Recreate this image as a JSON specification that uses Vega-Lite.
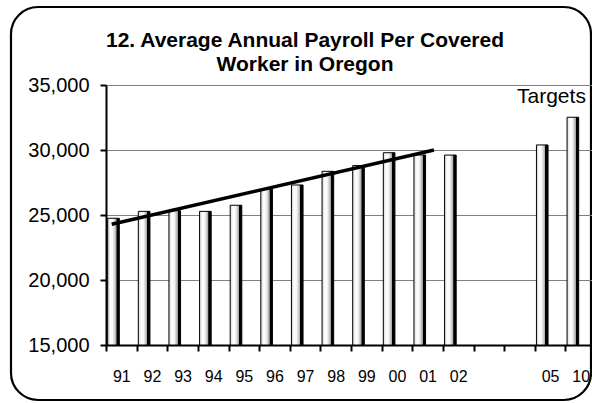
{
  "$schema": "https://vega.github.io/schema/vega-lite/v6.json",
  "width": 580,
  "height": 393,
  "autosize": {"type": "none"},
  "padding": {"left": 11, "top": 7, "right": 1, "bottom": 3},
  "background": "white",
  "config": {
    "font": "Liberation Sans",
    "view": {"stroke": "black", "strokeWidth": 2.2, "cornerRadius": 27, "fill": "white"}
  },
  "title": {
    "text": ["12. Average Annual Payroll Per Covered", "Worker in Oregon"],
    "fontSize": 21,
    "fontWeight": "bold",
    "color": "black",
    "anchor": "middle",
    "frame": "group",
    "lineHeight": 24,
    "offset": -68,
    "dx": 4
  },
  "layer": [
    {
      "data": {
        "values": [
          {"year": "91", "series": "Payroll", "payroll": 24750},
          {"year": "92", "series": "Payroll", "payroll": 25280},
          {"year": "93", "series": "Payroll", "payroll": 25330},
          {"year": "94", "series": "Payroll", "payroll": 25280},
          {"year": "95", "series": "Payroll", "payroll": 25750},
          {"year": "96", "series": "Payroll", "payroll": 26980},
          {"year": "97", "series": "Payroll", "payroll": 27310},
          {"year": "98", "series": "Payroll", "payroll": 28360},
          {"year": "99", "series": "Payroll", "payroll": 28800},
          {"year": "00", "series": "Payroll", "payroll": 29790},
          {"year": "01", "series": "Payroll", "payroll": 29620},
          {"year": "02", "series": "Payroll", "payroll": 29610},
          {"year": "05", "series": "Payroll", "payroll": 30390},
          {"year": "10", "series": "Payroll", "payroll": 32520}
        ]
      },
      "mark": {
        "type": "bar",
        "color": {
          "gradient": "linear",
          "x1": 0, "x2": 1, "y1": 0, "y2": 0,
          "stops": [
            {"offset": 0, "color": "#d4d4d4"},
            {"offset": 0.25, "color": "#ffffff"},
            {"offset": 0.45, "color": "#f6f6f6"},
            {"offset": 0.62, "color": "#cccccc"},
            {"offset": 0.74, "color": "#a0a0a0"},
            {"offset": 0.78, "color": "#000000"},
            {"offset": 1, "color": "#000000"}
          ]
        },
        "stroke": "black",
        "strokeWidth": 1
      },
      "encoding": {
        "x": {
          "field": "year",
          "type": "ordinal",
          "sort": null,
          "scale": {
            "domain": ["91", "92", "93", "94", "95", "96", "97", "98", "99", "00", "01", "02", "03", "04", "05", "10"],
            "range": [95, 585],
            "paddingInner": 0,
            "paddingOuter": 0
          },
          "axis": {
            "title": null,
            "offset": -55,
            "labelAngle": 0,
            "labelFontSize": 16,
            "labelColor": "black",
            "labelPadding": 17,
            "tickSize": 6,
            "tickWidth": 2,
            "tickColor": "black",
            "tickBand": "extent",
            "domainColor": "black",
            "domainWidth": 2,
            "grid": false,
            "labelExpr": "datum.value == '03' || datum.value == '04' ? '' : datum.value"
          }
        },
        "xOffset": {
          "field": "series",
          "type": "nominal",
          "scale": {"domain": ["Payroll", "Other"], "paddingInner": 0.2576, "paddingOuter": 0.1088}
        },
        "y": {
          "field": "payroll",
          "type": "quantitative",
          "scale": {"domain": [15000, 35000], "range": [338, 78], "zero": false, "nice": false},
          "axis": {
            "title": null,
            "values": [15000, 20000, 25000, 30000, 35000],
            "format": ",d",
            "offset": -95,
            "labelFontSize": 20,
            "labelColor": "black",
            "labelPadding": 11,
            "tickSize": 6,
            "tickWidth": 2,
            "tickColor": "black",
            "domainColor": "black",
            "domainWidth": 2,
            "grid": true,
            "gridColor": "#808080",
            "gridWidth": 1,
            "gridOpacity": 1
          }
        },
        "y2": {"datum": 15000}
      }
    },
    {
      "data": {"values": [{"from": "91", "to": "01", "start": 24290, "end": 30000}]},
      "mark": {"type": "rule", "strokeWidth": 3.5, "color": "black", "strokeCap": "butt"},
      "encoding": {
        "x": {"field": "from", "type": "ordinal", "bandPosition": 0.186},
        "x2": {"field": "to", "bandPosition": 0.71},
        "y": {"field": "start", "type": "quantitative"},
        "y2": {"field": "end"}
      }
    },
    {
      "data": {"values": [{"label": "Targets", "year": "10", "value": 33600}]},
      "mark": {"type": "text", "align": "right", "baseline": "alphabetic", "fontSize": 21, "color": "black"},
      "encoding": {
        "x": {"field": "year", "type": "ordinal", "bandPosition": 0.67},
        "y": {"field": "value", "type": "quantitative"},
        "text": {"field": "label"}
      }
    }
  ]
}
